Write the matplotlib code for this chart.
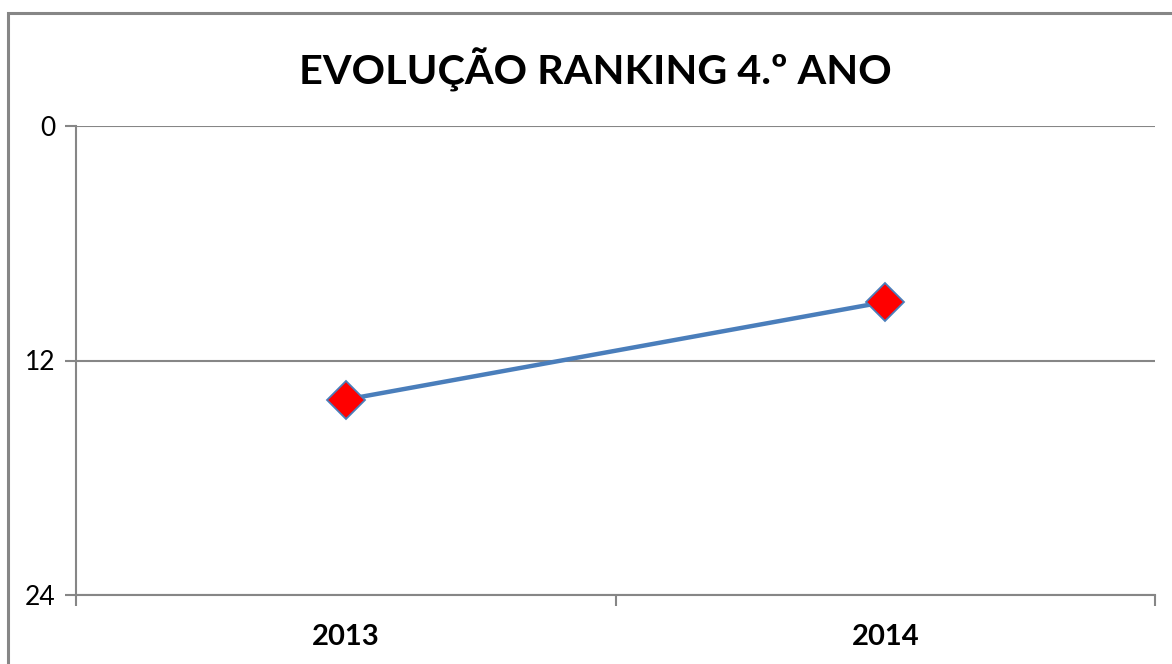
import matplotlib.pyplot as plt
from matplotlib.patches import Rectangle

years = ['2013', '2014']
ranking = [14, 9]
y_ticks = [0, 12, 24]

plt.rcParams['font.family'] = ['Lato', 'DejaVu Sans']

fig = plt.figure(figsize=(11.72, 6.64), dpi=100)
ax = fig.add_axes([76 / 1172, 1 - 595 / 664, (1155 - 76) / 1172, (595 - 126) / 664])

# frame around the whole chart
fig.patches.append(Rectangle((8 / 1172, -0.1), 1.2, 1 - 13 / 664 + 0.1, transform=fig.transFigure,
                             fill=False, edgecolor='#868686', linewidth=2.2))

x = [0.5, 1.5]
ax.plot(x, ranking, color='#4A7EBB', linewidth=3.2, marker='D', markersize=19,
        markerfacecolor='#FF0000', markeredgecolor='#4A7EBB', markeredgewidth=1.3, zorder=3)

ax.set_xlim(0, 2)
ax.set_ylim(24, 0)
ax.set_yticks(y_ticks)
ax.set_yticklabels([str(t) for t in y_ticks], fontsize=19)
ax.set_xticks([0, 1, 2])
ax.set_xticklabels([])
for xi, lab in zip(x, years):
    ax.annotate(lab, xy=(xi, 24), xytext=(0, -42), textcoords='offset pixels',
                ha='center', va='center', fontsize=21, fontweight='bold')

ax.grid(axis='y', color='#868686', linewidth=1.5)
for s in ['top', 'right']:
    ax.spines[s].set_visible(False)
for s in ['left', 'bottom']:
    ax.spines[s].set_color('#868686')
    ax.spines[s].set_linewidth(1.5)
ax.tick_params(axis='both', color='#868686', width=1.5, length=8, direction='out')
ax.tick_params(axis='y', pad=7)

fig.text(595 / 1172, 1 - 70 / 664, 'EVOLUÇÃO RANKING 4.º ANO', ha='center', va='center',
         fontsize=29.8, fontweight='bold')

fig.savefig('out.png', dpi=100)
